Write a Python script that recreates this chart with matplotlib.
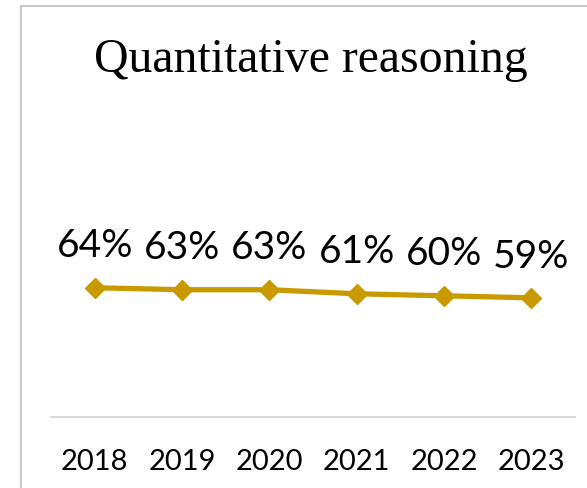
import matplotlib.pyplot as plt
from matplotlib.patches import Rectangle

years = ["2018", "2019", "2020", "2021", "2022", "2023"]
values = [0.64, 0.63, 0.63, 0.61, 0.60, 0.59]
labels = ["64%", "63%", "63%", "61%", "60%", "59%"]

gold = "#C99A00"

fig = plt.figure(figsize=(5.87, 4.89), dpi=100)

# chart frame (only top and left edges visible)
fig.patches.append(Rectangle((21 / 587, -0.1), 1.2, 1 - 6.5 / 489 + 0.1,
                             transform=fig.transFigure, fill=False,
                             edgecolor="#C8C8C8", linewidth=1.5))

# axes: y 0 at pixel 418, y 1 at pixel ~216
ax = fig.add_axes([51 / 587, (489 - 418) / 489, (575 - 51) / 587, 202 / 489])
x = list(range(len(years)))
ax.plot(x, values, color=gold, linewidth=3.8, marker="D", markersize=10.5,
        solid_capstyle="butt")
ax.set_xlim(-0.5, len(years) - 0.5)
ax.set_ylim(0, 1)

for i, (v, lab) in enumerate(zip(values, labels)):
    ax.annotate(lab, (i, v), xytext=(0, 17.5), textcoords="offset points",
                ha="center", va="bottom", fontsize=28, family="Lato",
                color="black")

for s in ["top", "right", "left"]:
    ax.spines[s].set_visible(False)
ax.spines["bottom"].set_color("#D9D9D9")
ax.spines["bottom"].set_linewidth(1.5)
ax.set_yticks([])
ax.set_xticks(x)
ax.set_xticklabels(years, fontsize=21, family="Lato")
ax.tick_params(axis="x", length=0, pad=22)

fig.text(311 / 587, 1 - 60 / 489, "Quantitative reasoning", ha="center",
         va="center", fontsize=34.4, family="Liberation Serif")

fig.savefig("out.png", dpi=100)
